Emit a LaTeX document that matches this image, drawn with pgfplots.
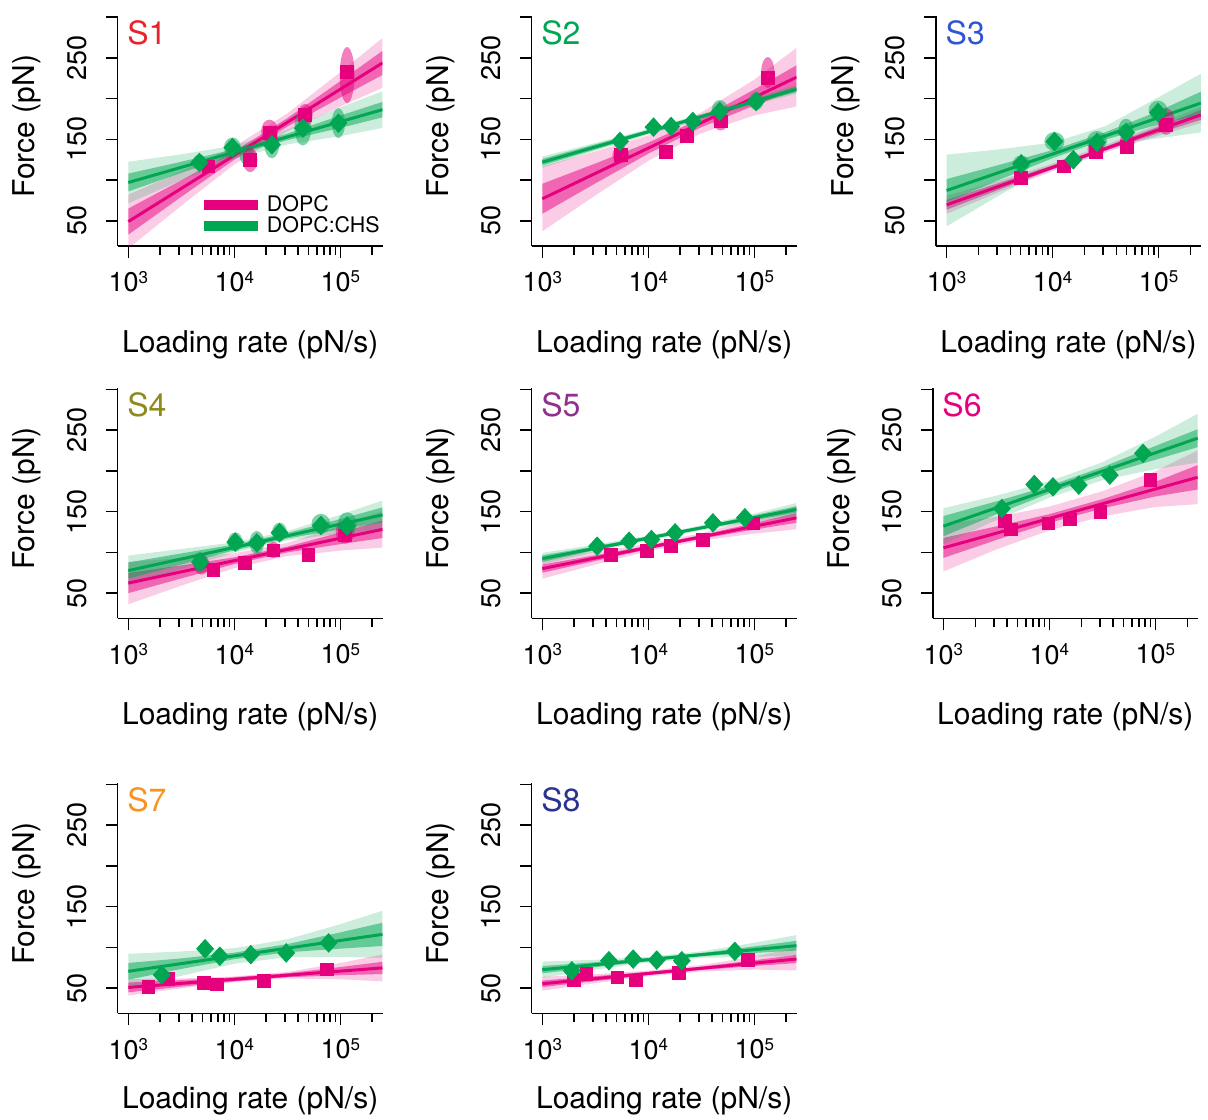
\documentclass[border=0pt]{standalone}
\usepackage{pgfplots}
\pgfplotsset{compat=1.18}
\usepackage{fontspec}
\setmainfont{TeX Gyre Heros}
\definecolor{dopc}{HTML}{E6007E}
\definecolor{chs}{HTML}{00A651}
\definecolor{cSa}{HTML}{E8232E}
\definecolor{cSb}{HTML}{00A651}
\definecolor{cSc}{HTML}{2F55D4}
\definecolor{cSd}{HTML}{8E8A1E}
\definecolor{cSe}{HTML}{912F8F}
\definecolor{cSf}{HTML}{E6007E}
\definecolor{cSg}{HTML}{F7931E}
\definecolor{cSh}{HTML}{2B3390}
\newcommand{\tsup}[1]{\raisebox{4.3pt}{\fontsize{8.5}{9}\selectfont #1}}
\newcommand{\tfont}{\fontsize{13.5}{15}\selectfont}
\newcommand{\lfont}{\fontsize{15}{17}\selectfont}
\newcommand{\elp}[5]{\addplot[color=#1, only marks, mark=*, mark size=1pt, forget plot, mark options={fill=#1, fill opacity=0.5, draw opacity=0, xscale=#4, yscale=#5}] coordinates {(#2,#3)};}
\newcommand{\plabel}[2]{\node[anchor=base west, inner sep=0pt, text=#1, font=\fontsize{16}{18}\selectfont] at (rel axis cs:0.035,0.875) {#2};}
\newcommand{\bandL}[2]{\addplot[draw=none, fill=#1, fill opacity=0.2, forget plot] coordinates {#2};}
\newcommand{\bandD}[2]{\addplot[draw=none, fill=#1, fill opacity=0.5, forget plot] coordinates {#2};}
\newcommand{\fitline}[2]{\addplot[draw=#1, line width=1.5pt, no marks, forget plot] coordinates {#2};}
\newcommand{\squares}[1]{\addplot[only marks, mark=square*, mark size=3.2pt, mark options={draw=dopc, fill=dopc}, forget plot] coordinates {#1};}
\newcommand{\diamonds}[1]{\addplot[only marks, mark=diamond*, mark size=4.6pt, mark options={draw=chs, fill=chs, xscale=1.22}, forget plot] coordinates {#1};}
\begin{document}
\begin{tikzpicture}
\path[use as bounding box] (0pt,0pt) rectangle (604pt,-559.5pt);

% ---------------- S1
\begin{axis}[scale only axis, width=132.5pt, height=115.2pt, xmode=log, xmin=794.3, xmax=251189, ymin=19, ymax=302,
  axis lines=left, axis line style={-, line width=0.75pt}, tick align=outside, major tick length=6pt, minor tick length=4.5pt,
  tick style={black, line width=0.75pt}, xtick={1000,10000,100000},
  minor xtick={2000,3000,4000,5000,6000,7000,8000,9000,20000,30000,40000,50000,60000,70000,80000,90000,200000},
  xticklabels={10\tsup{3},10\tsup{4},10\tsup{5}}, ytick={50,100,150,200,250,300}, yticklabels={50,{},150,{},250,{}},
  tick label style={font=\tfont}, xticklabel style={anchor=north, yshift=-3pt}, yticklabel style={xshift=-6pt, rotate=90, anchor=south},
  label style={font=\lfont}, xlabel={Loading rate (pN/s)}, ylabel={Force (pN)},
  xlabel style={at={(axis description cs:0.5,-0.463)}, anchor=base},
  ylabel style={at={(axis description cs:-0.313,0.52)}, anchor=base},
  anchor=south west, at={(58.85pt,-123pt)},
  legend image code/.code={\draw[#1, line width=5pt] (0pt,0pt) -- (27pt,0pt);},
  legend style={at={(0.305,0.028)}, anchor=south west, draw=none, fill=none, inner sep=0pt, row sep=-3pt, font=\fontsize{10.7}{12}\selectfont},
  legend cell align=left]
\bandL{dopc}{(1000,82) (3162,110.7) (10000,141.2) (31623,181.8) (100000,232.5) (250000,274.5) (250000,213.3) (100000,190.3) (31623,159.8) (10000,119.2) (3162,68.5) (1000,16)}
\bandD{dopc}{(1000,65) (3162,99.7) (10000,135.3) (31623,175.9) (100000,221.5) (250000,258.7) (250000,229.1) (100000,201.3) (31623,165.7) (10000,125.1) (3162,79.5) (1000,33)}
\bandL{chs}{(1000,122.5) (3162,131.6) (10000,142.4) (31623,162.3) (100000,189.3) (250000,209) (250000,164) (100000,153.9) (31623,143.7) (10000,126.2) (3162,99.8) (1000,71.5)}
\bandD{chs}{(1000,108) (3162,122.5) (10000,137.8) (31623,157) (100000,179.2) (250000,196) (250000,177) (100000,164) (31623,149) (10000,130.8) (3162,108.9) (1000,86)}
\addplot[draw=dopc, line width=1.5pt, no marks] coordinates {(1000,49) (250000,243.9)};
\addlegendentry{DOPC}
\addplot[draw=chs, line width=1.5pt, no marks] coordinates {(1000,97) (250000,186.5)};
\addlegendentry{DOPC:CHS}
\elp{chs}{4690}{121.6}{3.5}{4}
\elp{chs}{9600}{140}{4.2}{5}
\elp{chs}{13100}{131}{3.7}{5}
\elp{chs}{22600}{143.3}{3.7}{6.7}
\elp{chs}{44400}{165}{4.2}{9.2}
\elp{chs}{96000}{170}{3.3}{7.5}
\elp{dopc}{5700}{116.7}{3.5}{3.5}
\elp{dopc}{14100}{124.9}{3.7}{6.2}
\elp{dopc}{21500}{160}{4.2}{5.8}
\elp{dopc}{46700}{180}{3.7}{5.5}
\elp{dopc}{116000}{229}{3.7}{14}
\squares{(5700,116.7) (14100,124.9) (21500,157.6) (46700,180) (116000,233.3)}
\diamonds{(4690,121.6) (9600,140) (22600,143.3) (44400,163.7) (96000,169.9)}
\plabel{cSa}{S1}
\end{axis}

% ---------------- S2
\begin{axis}[scale only axis, width=132.5pt, height=115.2pt, xmode=log, xmin=794.3, xmax=251189, ymin=19, ymax=302,
  axis lines=left, axis line style={-, line width=0.75pt}, tick align=outside, major tick length=6pt, minor tick length=4.5pt,
  tick style={black, line width=0.75pt}, xtick={1000,10000,100000},
  minor xtick={2000,3000,4000,5000,6000,7000,8000,9000,20000,30000,40000,50000,60000,70000,80000,90000,200000},
  xticklabels={10\tsup{3},10\tsup{4},10\tsup{5}}, ytick={50,100,150,200,250,300}, yticklabels={50,{},150,{},250,{}},
  tick label style={font=\tfont}, xticklabel style={anchor=north, yshift=-3pt}, yticklabel style={xshift=-6pt, rotate=90, anchor=south},
  label style={font=\lfont}, xlabel={Loading rate (pN/s)}, ylabel={Force (pN)},
  xlabel style={at={(axis description cs:0.5,-0.463)}, anchor=base},
  ylabel style={at={(axis description cs:-0.313,0.52)}, anchor=base},
  anchor=south west, at={(265.85pt,-123pt)}]
\bandL{dopc}{(1000,117) (3162,135) (10000,154.8) (31623,183) (100000,223.4) (250000,262.3) (250000,190.3) (100000,179.4) (31623,157.6) (10000,123.6) (3162,81.2) (1000,37)}
\bandD{dopc}{(1000,95.4) (3162,120.3) (10000,146) (31623,175.7) (100000,211.3) (250000,240.9) (250000,211.7) (100000,191.5) (31623,164.9) (10000,132.4) (3162,95.9) (1000,58.6)}
\bandL{chs}{(1000,129) (3162,145.5) (10000,162.8) (31623,181.2) (100000,200.6) (250000,217) (250000,206) (100000,192.6) (31623,174.8) (10000,155.8) (3162,135.9) (1000,115)}
\bandD{chs}{(1000,126) (3162,143.9) (10000,161.5) (31623,180.1) (100000,199.3) (250000,214.8) (250000,208.2) (100000,193.9) (31623,175.9) (10000,157.1) (3162,137.5) (1000,118)}
\fitline{dopc}{(1000,77) (250000,226.3)}
\fitline{chs}{(1000,122) (250000,211.5)}
\elp{chs}{47200}{186}{4}{5}
\elp{chs}{104000}{197}{3.7}{4.5}
\elp{dopc}{5500}{131}{4.2}{4.2}
\elp{dopc}{48200}{172}{3.7}{4.5}
\elp{dopc}{134000}{232}{3.3}{7.8}
\squares{(5500,131) (14700,135) (23200,154.3) (48200,172) (134000,225)}
\diamonds{(5400,147.4) (11200,165) (16400,165.8) (26300,172) (47200,184.2) (104000,196.5)}
\plabel{cSb}{S2}
\end{axis}

% ---------------- S3
\begin{axis}[scale only axis, width=132.5pt, height=115.2pt, xmode=log, xmin=794.3, xmax=251189, ymin=19, ymax=302,
  axis lines=left, axis line style={-, line width=0.75pt}, tick align=outside, major tick length=6pt, minor tick length=4.5pt,
  tick style={black, line width=0.75pt}, xtick={1000,10000,100000},
  minor xtick={2000,3000,4000,5000,6000,7000,8000,9000,20000,30000,40000,50000,60000,70000,80000,90000,200000},
  xticklabels={10\tsup{3},10\tsup{4},10\tsup{5}}, ytick={50,100,150,200,250,300}, yticklabels={50,{},150,{},250,{}},
  tick label style={font=\tfont}, xticklabel style={anchor=north, yshift=-3pt}, yticklabel style={xshift=-6pt, rotate=90, anchor=south},
  label style={font=\lfont}, xlabel={Loading rate (pN/s)}, ylabel={Force (pN)},
  xlabel style={at={(axis description cs:0.5,-0.463)}, anchor=base},
  ylabel style={at={(axis description cs:-0.313,0.52)}, anchor=base},
  anchor=south west, at={(468pt,-123pt)}]
\bandL{dopc}{(1000,80.6) (3162,99.6) (10000,120.1) (31623,143.1) (100000,168.6) (250000,190) (250000,170) (100000,154.6) (31623,134.1) (10000,111.1) (3162,85.6) (1000,58.6)}
\bandD{dopc}{(1000,75.6) (3162,96.6) (10000,118.1) (31623,141.1) (100000,165.6) (250000,186) (250000,174) (100000,157.6) (31623,136.1) (10000,113.1) (3162,88.6) (1000,63.6)}
\bandL{chs}{(1000,131.2) (3162,137.8) (10000,146) (31623,166.3) (100000,201.8) (250000,230.5) (250000,158.5) (100000,151.4) (31623,142.3) (10000,117.8) (3162,81.4) (1000,43.2)}
\bandD{chs}{(1000,101.2) (3162,118.8) (10000,136.9) (31623,158.8) (100000,184.8) (250000,208.5) (250000,180.5) (100000,168.4) (31623,149.8) (10000,126.9) (3162,100.4) (1000,73.2)}
\fitline{dopc}{(1000,69.6) (250000,180)}
\fitline{chs}{(1000,87.2) (250000,194.5)}
\elp{dopc}{5050}{104}{3.5}{3.7}
\elp{dopc}{12800}{118}{3}{3}
\elp{dopc}{25600}{138}{4.2}{4.2}
\elp{dopc}{50500}{147}{3.7}{5}
\elp{dopc}{118000}{172}{4.2}{6.7}
\elp{chs}{5050}{120}{4.2}{4.2}
\elp{chs}{10400}{147.4}{5}{4.7}
\elp{chs}{26200}{148}{5}{5}
\elp{chs}{49300}{163}{3.7}{5}
\elp{chs}{98600}{186}{4.7}{4.7}
\squares{(5050,102.4) (12800,116.7) (25600,135) (50500,141.2) (118000,167.8)}
\diamonds{(5050,120) (10400,147.4) (15700,124.9) (26200,146.2) (49300,158.4) (98600,183)}
\plabel{cSc}{S3}
\end{axis}

% ---------------- S4
\begin{axis}[scale only axis, width=132.5pt, height=115.2pt, xmode=log, xmin=794.3, xmax=251189, ymin=19, ymax=302,
  axis lines=left, axis line style={-, line width=0.75pt}, tick align=outside, major tick length=6pt, minor tick length=4.5pt,
  tick style={black, line width=0.75pt}, xtick={1000,10000,100000},
  minor xtick={2000,3000,4000,5000,6000,7000,8000,9000,20000,30000,40000,50000,60000,70000,80000,90000,200000},
  xticklabels={10\tsup{3},10\tsup{4},10\tsup{5}}, ytick={50,100,150,200,250,300}, yticklabels={50,{},150,{},250,{}},
  tick label style={font=\tfont}, xticklabel style={anchor=north, yshift=-3pt}, yticklabel style={xshift=-6pt, rotate=90, anchor=south},
  label style={font=\lfont}, xlabel={Loading rate (pN/s)}, ylabel={Force (pN)},
  xlabel style={at={(axis description cs:0.5,-0.463)}, anchor=base},
  ylabel style={at={(axis description cs:-0.313,0.52)}, anchor=base},
  anchor=south west, at={(58.85pt,-309.15pt)}]
\bandL{dopc}{(1000,88.3) (3162,92.9) (10000,98.9) (31623,111.5) (100000,132.5) (250000,150.7) (250000,105.9) (100000,102.1) (31623,95.5) (10000,80.7) (3162,59.1) (1000,36.3)}
\bandD{dopc}{(1000,74.7) (3162,84) (10000,93.9) (31623,107) (100000,124.5) (250000,139) (250000,117.6) (100000,110.1) (31623,100) (10000,85.7) (3162,68) (1000,49.9)}
\bandL{chs}{(1000,96.1) (3162,104.1) (10000,112.4) (31623,126.2) (100000,146.1) (250000,163.7) (250000,128.3) (100000,123.1) (31623,114.6) (10000,99.8) (3162,79.7) (1000,59.1)}
\bandD{chs}{(1000,87.6) (3162,98.7) (10000,109.7) (31623,123.8) (100000,140.9) (250000,155.2) (250000,136.8) (100000,128.3) (31623,117) (10000,102.5) (3162,85.1) (1000,67.6)}
\fitline{dopc}{(1000,62.3) (250000,128.3)}
\fitline{chs}{(1000,77.6) (250000,146)}
\elp{dopc}{4900}{85}{4}{5}
\elp{dopc}{12600}{87}{3}{3.5}
\elp{dopc}{23400}{103}{3.5}{4}
\elp{dopc}{111000}{125}{4.7}{5.8}
\elp{chs}{4750}{88}{3.7}{5}
\elp{chs}{10200}{113}{3.7}{4.7}
\elp{chs}{16300}{112}{3.7}{5.8}
\elp{chs}{26700}{125}{3.7}{4.7}
\elp{chs}{65600}{135}{4.7}{5}
\elp{chs}{116000}{135}{4.7}{5.8}
\squares{(6350,78.8) (12600,87) (23400,102.3) (50000,96.5) (111000,120.8)}
\diamonds{(4750,87.9) (10200,112.6) (16300,111.7) (26700,124.1) (65600,133.1) (116000,132.3)}
\plabel{cSd}{S4}
\end{axis}

% ---------------- S5
\begin{axis}[scale only axis, width=132.5pt, height=115.2pt, xmode=log, xmin=794.3, xmax=251189, ymin=19, ymax=302,
  axis lines=left, axis line style={-, line width=0.75pt}, tick align=outside, major tick length=6pt, minor tick length=4.5pt,
  tick style={black, line width=0.75pt}, xtick={1000,10000,100000},
  minor xtick={2000,3000,4000,5000,6000,7000,8000,9000,20000,30000,40000,50000,60000,70000,80000,90000,200000},
  xticklabels={10\tsup{3},10\tsup{4},10\tsup{5}}, ytick={50,100,150,200,250,300}, yticklabels={50,{},150,{},250,{}},
  tick label style={font=\tfont}, xticklabel style={anchor=north, yshift=-3pt}, yticklabel style={xshift=-6pt, rotate=90, anchor=south},
  label style={font=\lfont}, xlabel={Loading rate (pN/s)}, ylabel={Force (pN)},
  xlabel style={at={(axis description cs:0.5,-0.463)}, anchor=base},
  ylabel style={at={(axis description cs:-0.313,0.52)}, anchor=base},
  anchor=south west, at={(265.85pt,-309.15pt)}]
\bandL{dopc}{(1000,92.3) (3162,101) (10000,110.5) (31623,123.5) (100000,141) (250000,156.4) (250000,128.4) (100000,123) (31623,114.5) (10000,101.5) (3162,85) (1000,67.7)}
\bandD{dopc}{(1000,85) (3162,96.5) (10000,108.2) (31623,121.2) (100000,136) (250000,148.4) (250000,136.4) (100000,128) (31623,116.8) (10000,103.8) (3162,89.5) (1000,75)}
\bandL{chs}{(1000,99.4) (3162,109.5) (10000,120.6) (31623,133.1) (100000,147.6) (250000,160.7) (250000,144.7) (100000,137.6) (31623,127.1) (10000,114.6) (3162,100.5) (1000,85.4)}
\bandD{chs}{(1000,96.4) (3162,107.5) (10000,119.4) (31623,131.9) (100000,145.6) (250000,156.7) (250000,148.7) (100000,139.6) (31623,128.3) (10000,115.8) (3162,102.5) (1000,88.4)}
\fitline{dopc}{(1000,80) (250000,142.4)}
\fitline{chs}{(1000,92.4) (250000,152.7)}
\squares{(4400,97.3) (9700,101.4) (16400,107.6) (32700,115.8) (98000,135.5)}
\diamonds{(3290,107.6) (6600,113.7) (10700,115.8) (17900,124) (40700,136.3) (81500,142.5)}
\plabel{cSe}{S5}
\end{axis}

% ---------------- S6
\begin{axis}[scale only axis, width=132.5pt, height=115.2pt, xmode=log, xmin=794.3, xmax=251189, ymin=19, ymax=302,
  axis lines=left, axis line style={-, line width=0.75pt}, tick align=outside, major tick length=6pt, minor tick length=4.5pt,
  tick style={black, line width=0.75pt}, xtick={1000,10000,100000},
  minor xtick={2000,3000,4000,5000,6000,7000,8000,9000,20000,30000,40000,50000,60000,70000,80000,90000,200000},
  xticklabels={10\tsup{3},10\tsup{4},10\tsup{5}}, ytick={50,100,150,200,250,300}, yticklabels={50,{},150,{},250,{}},
  tick label style={font=\tfont}, xticklabel style={anchor=north, yshift=-3pt}, yticklabel style={xshift=-6pt, rotate=90, anchor=south},
  label style={font=\lfont}, xlabel={Loading rate (pN/s)}, ylabel={Force (pN)},
  xlabel style={at={(axis description cs:0.5,-0.463)}, anchor=base},
  ylabel style={at={(axis description cs:-0.313,0.52)}, anchor=base},
  anchor=south west, at={(466.4pt,-309.15pt)}]
\bandL{dopc}{(1000,134.5) (3162,143.6) (10000,156.2) (31623,175.1) (100000,199.7) (250000,225.2) (250000,159.2) (100000,155.7) (31623,144.3) (10000,127) (3162,103.6) (1000,76.5)}
\bandD{dopc}{(1000,117.8) (3162,131.9) (10000,146.9) (31623,165.4) (100000,186.7) (250000,207.2) (250000,177.2) (100000,168.7) (31623,154) (10000,136.3) (3162,115.3) (1000,93.2)}
\bandL{chs}{(1000,154.2) (3162,169.7) (10000,187.2) (31623,210.7) (100000,242.2) (250000,270.2) (250000,210.2) (100000,202.2) (31623,188.7) (10000,167.2) (3162,139.7) (1000,110.2)}
\bandD{chs}{(1000,144.6) (3162,162.7) (10000,181.7) (31623,204.7) (100000,230.7) (250000,251.2) (250000,229.2) (100000,213.7) (31623,194.7) (10000,172.7) (3162,146.7) (1000,119.8)}
\fitline{dopc}{(1000,105.5) (250000,192.2)}
\fitline{chs}{(1000,132.2) (250000,240.2)}
\squares{(3830,138.4) (4360,128.1) (9800,135.5) (15700,140.5) (30200,149.6) (89800,189.1)}
\diamonds{(3560,153.8) (7200,183.4) (10800,180.5) (18900,182.6) (37100,194.9) (76400,221.6)}
\plabel{cSf}{S6}
\end{axis}

% ---------------- S7
\begin{axis}[scale only axis, width=132.5pt, height=115.2pt, xmode=log, xmin=794.3, xmax=251189, ymin=19, ymax=302,
  axis lines=left, axis line style={-, line width=0.75pt}, tick align=outside, major tick length=6pt, minor tick length=4.5pt,
  tick style={black, line width=0.75pt}, xtick={1000,10000,100000},
  minor xtick={2000,3000,4000,5000,6000,7000,8000,9000,20000,30000,40000,50000,60000,70000,80000,90000,200000},
  xticklabels={10\tsup{3},10\tsup{4},10\tsup{5}}, ytick={50,100,150,200,250,300}, yticklabels={50,{},150,{},250,{}},
  tick label style={font=\tfont}, xticklabel style={anchor=north, yshift=-3pt}, yticklabel style={xshift=-6pt, rotate=90, anchor=south},
  label style={font=\lfont}, xlabel={Loading rate (pN/s)}, ylabel={Force (pN)},
  xlabel style={at={(axis description cs:0.5,-0.412)}, anchor=base},
  ylabel style={at={(axis description cs:-0.313,0.52)}, anchor=base},
  anchor=south west, at={(58.85pt,-506.65pt)}]
\bandL{dopc}{(1000,60.8) (3162,61.8) (10000,64.3) (31623,69.8) (100000,80.8) (250000,91.3) (250000,58.3) (100000,60.8) (31623,61.8) (10000,57.3) (3162,49.8) (1000,40.8)}
\bandD{dopc}{(1000,56.8) (3162,59.8) (10000,63.3) (31623,68.3) (100000,75.8) (250000,82.3) (250000,67.3) (100000,65.8) (31623,63.3) (10000,58.3) (3162,51.8) (1000,44.8)}
\bandL{chs}{(1000,92.1) (3162,95) (10000,99) (31623,110) (100000,128.4) (250000,145) (250000,87) (100000,88.4) (31623,88) (10000,80) (3162,65) (1000,49.1)}
\bandD{chs}{(1000,80.9) (3162,86.5) (10000,93.5) (31623,104) (100000,118.4) (250000,130.3) (250000,101.7) (100000,98.4) (31623,94) (10000,85.5) (3162,73.5) (1000,60.3)}
\fitline{dopc}{(1000,50.8) (250000,74.8)}
\fitline{chs}{(1000,70.6) (250000,116)}
\squares{(1550,51.2) (2390,61) (5190,56) (6900,54.6) (18900,58.6) (74800,73)}
\diamonds{(2070,66.2) (5300,98.3) (7300,89.1) (14300,91.1) (30900,93.2) (77600,105.5)}
\plabel{cSg}{S7}
\end{axis}

% ---------------- S8
\begin{axis}[scale only axis, width=132.5pt, height=115.2pt, xmode=log, xmin=794.3, xmax=251189, ymin=19, ymax=302,
  axis lines=left, axis line style={-, line width=0.75pt}, tick align=outside, major tick length=6pt, minor tick length=4.5pt,
  tick style={black, line width=0.75pt}, xtick={1000,10000,100000},
  minor xtick={2000,3000,4000,5000,6000,7000,8000,9000,20000,30000,40000,50000,60000,70000,80000,90000,200000},
  xticklabels={10\tsup{3},10\tsup{4},10\tsup{5}}, ytick={50,100,150,200,250,300}, yticklabels={50,{},150,{},250,{}},
  tick label style={font=\tfont}, xticklabel style={anchor=north, yshift=-3pt}, yticklabel style={xshift=-6pt, rotate=90, anchor=south},
  label style={font=\lfont}, xlabel={Loading rate (pN/s)}, ylabel={Force (pN)},
  xlabel style={at={(axis description cs:0.5,-0.412)}, anchor=base},
  ylabel style={at={(axis description cs:-0.313,0.52)}, anchor=base},
  anchor=south west, at={(265.85pt,-506.65pt)}]
\bandL{dopc}{(1000,63.8) (3162,67.1) (10000,71.5) (31623,78.3) (100000,88.7) (250000,99.7) (250000,71.7) (100000,72.7) (31623,70.3) (10000,64.5) (3162,56.1) (1000,46.8)}
\bandD{dopc}{(1000,59.3) (3162,64.6) (10000,70) (31623,76.3) (100000,84.2) (250000,90.7) (250000,80.7) (100000,77.2) (31623,72.3) (10000,66) (3162,58.6) (1000,51.3)}
\bandL{chs}{(1000,82.6) (3162,84.8) (10000,88.4) (31623,95.1) (100000,105.7) (250000,115.1) (250000,89.1) (100000,88.7) (31623,87.1) (10000,81.4) (3162,72.8) (1000,62.6)}
\bandD{chs}{(1000,77.1) (3162,81.8) (10000,86.9) (31623,93.1) (100000,101.2) (250000,108.1) (250000,96.1) (100000,93.2) (31623,89.1) (10000,82.9) (3162,75.8) (1000,68.1)}
\fitline{dopc}{(1000,55.3) (250000,85.7)}
\fitline{chs}{(1000,72.6) (250000,102.1)}
\squares{(2000,60.3) (2600,67.7) (5100,63.2) (7600,59.5) (19600,68.5) (87700,84.9)}
\diamonds{(1900,71.2) (4250,83.6) (7200,85.6) (12000,84.4) (20700,83.6) (65500,95.1)}
\plabel{cSh}{S8}
\end{axis}
\end{tikzpicture}
\end{document}
